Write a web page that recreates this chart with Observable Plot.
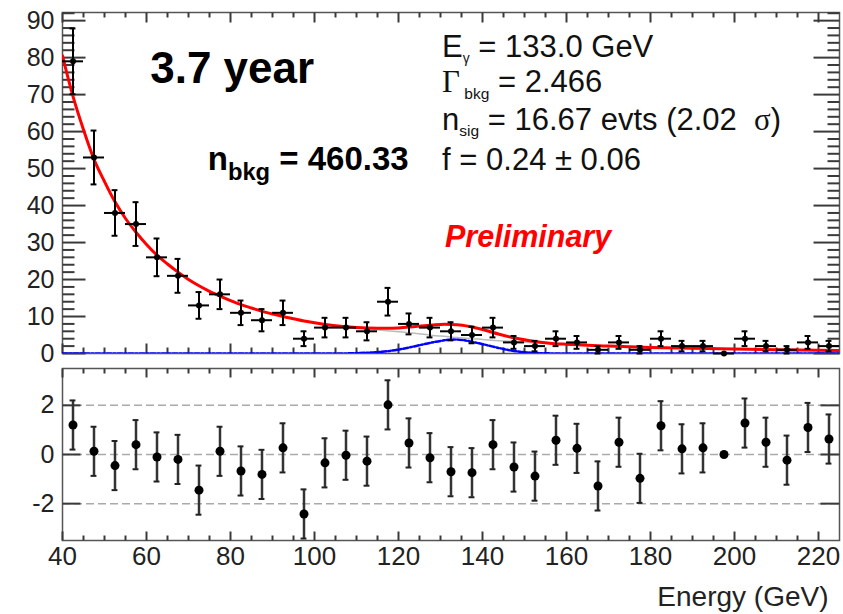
<!DOCTYPE html>
<html>
<head>
<meta charset="utf-8">
<script src="https://cdn.jsdelivr.net/npm/d3@7"></script>
<script src="https://cdn.jsdelivr.net/npm/@observablehq/plot@0.6"></script>
<style>
  body { margin: 0; background: #fff; }
  #chart svg { display: block; overflow: visible; }
</style>
</head>
<body>
<div id="chart"></div>
<script>
// ---------------- data ----------------
const binCenters = [42.5, 47.5, 52.5, 57.5, 62.5, 67.5, 72.5, 77.5, 82.5, 87.5,
  92.5, 97.5, 102.5, 107.5, 112.5, 117.5, 122.5, 127.5, 132.5, 137.5,
  142.5, 147.5, 152.5, 157.5, 162.5, 167.5, 172.5, 177.5, 182.5, 187.5,
  192.5, 197.5, 202.5, 207.5, 212.5, 217.5, 222.5];
const counts = [79, 53, 38, 35, 26, 21, 13, 16, 11, 9,
  11, 4, 7, 7, 6, 14, 8, 7, 6, 5,
  7, 3, 2, 4, 3, 1, 3, 1, 4, 2,
  2, 0, 4, 2, 1, 3, 2];
const pulls = [1.2, 0.13, -0.45, 0.4, -0.1, -0.2, -1.45, 0.13, -0.67, -0.81,
  0.27, -2.42, -0.34, -0.03, -0.27, 2.02, 0.47, -0.13, -0.7, -0.74,
  0.4, -0.51, -0.88, 0.58, 0.25, -1.28, 0.5, -0.97, 1.17, 0.23,
  0.27, 0, 1.28, 0.5, -0.23, 1.1, 0.63];
const pullErrors = [1, 1, 1, 1, 1, 1, 1, 1, 1, 1,
  1, 1, 1, 1, 1, 1, 1, 1, 1, 1,
  1, 1, 1, 1, 1, 1, 1, 1, 1, 1,
  1, 0, 1, 1, 1, 1, 1];

// total fit (red)
const fitEnergy = [40, 42.5, 45, 47.5, 50, 52.5, 55, 57.5, 60, 62.5, 65, 67.5, 70, 72.5, 75, 77.5, 80, 82.5, 85, 87.5,
  90, 92.5, 95, 97.5, 100, 105, 110, 115, 118, 120, 124, 128, 131, 134, 137, 140, 144, 148, 152, 156,
  160, 165, 170, 180, 190, 200, 210, 225];
const fitValue = [80.5, 69.5, 60.5, 52.5, 46.5, 41, 36.5, 32.8, 29.5, 26.6, 24.2, 22, 20, 18.3, 16.8, 15.5, 14.3, 13.2, 12.3, 11.4,
  10.7, 10, 9.4, 8.8, 8.3, 7.5, 7.0, 6.8, 6.8, 6.9, 7.3, 7.7, 7.9, 7.8, 7.3, 6.5, 5.2, 4.1, 3.3, 2.8,
  2.5, 2.2, 2.0, 1.65, 1.4, 1.2, 1.0, 0.8];
// background component (grey)
const bkgEnergy = [100, 105, 110, 114, 118, 122, 126, 130, 133, 136, 139, 142, 145, 148, 151, 155, 160];
const bkgValue = [8.3, 7.5, 6.9, 6.5, 6.1, 5.7, 5.2, 4.7, 4.4, 4.1, 3.9, 3.6, 3.4, 3.2, 3.0, 2.8, 2.5];
// signal component (blue)
const sigEnergy = [40, 105, 110, 114, 118, 122, 126, 130, 133, 136, 139, 142, 145, 148, 151, 155, 160, 225];
const sigValue = [0, 0, 0.1, 0.3, 0.7, 1.5, 2.5, 3.4, 3.8, 3.5, 2.8, 2.0, 1.2, 0.6, 0.25, 0.05, 0, 0];

// tick values
const xMajor = [40, 60, 80, 100, 120, 140, 160, 180, 200, 220];
const xMinor = [45, 50, 55, 65, 70, 75, 85, 90, 95, 105, 110, 115, 125, 130, 135, 145, 150, 155,
  165, 170, 175, 185, 190, 195, 205, 210, 215];
const yTopMajor = [0, 10, 20, 30, 40, 50, 60, 70, 80, 90];
const yTopMinor = [2, 4, 6, 8, 12, 14, 16, 18, 22, 24, 26, 28, 32, 34, 36, 38, 42, 44, 46, 48,
  52, 54, 56, 58, 62, 64, 66, 68, 72, 74, 76, 78, 82, 84, 86, 88, 92];
const yResMajor = [-2, 0, 2];

// axis extents
const X_DOMAIN = [40, 225];
const Y_TOP_DOMAIN = [0, 92.2];
const Y_RES_DOMAIN = [-3.5, 3.5];

// ---------------- tables ----------------
const points = binCenters.map((e, i) => ({e, n: counts[i], err: Math.sqrt(counts[i])}));
const resid = binCenters.map((e, i) => ({e, p: pulls[i], err: pullErrors[i]}));
const fit = fitEnergy.map((e, i) => ({e, v: fitValue[i]}));
const bkg = bkgEnergy.map((e, i) => ({e, v: bkgValue[i]}));
const sig = sigEnergy.map((e, i) => ({e, v: sigValue[i]}));

const FONT = "'Liberation Sans', Arial, Helvetica, sans-serif";
const SERIF = "'Liberation Serif', 'DejaVu Serif', serif";
const FRAME = "#555";
const TICK = "#3a3a3a";
const W = 843;
const M = {left: 62, right: 4};
const TOPP = {height: 358, marginTop: 12, marginBottom: 5};
const BOTP = {height: 256, marginTop: 10, marginBottom: 74};
const BIN_HALF = 2.5;
const CAP = 0.7;

// inward ROOT-style ticks as rule marks (tick length in pixels converted to data units)
function tickRules(values, axis, side, lenPx, panel, yDomain) {
  const frameW = W - M.left - M.right;
  const frameH = panel.height - panel.marginTop - panel.marginBottom;
  const xu = (X_DOMAIN[1] - X_DOMAIN[0]) / frameW;
  const yu = (yDomain[1] - yDomain[0]) / frameH;
  const rows = values.map(v => {
    if (axis === "y") {
      const a = side === "left" ? X_DOMAIN[0] : X_DOMAIN[1];
      const b = side === "left" ? a + lenPx * xu : a - lenPx * xu;
      return {x1: a, x2: b, y1: v, y2: v};
    } else {
      const a = side === "bottom" ? yDomain[0] : yDomain[1];
      const b = side === "bottom" ? a + lenPx * yu : a - lenPx * yu;
      return {x1: v, x2: v, y1: a, y2: b};
    }
  });
  return Plot.link(rows, {x1: "x1", y1: "y1", x2: "x2", y2: "y2", stroke: TICK, strokeWidth: 2});
}

// ---------------- annotation texts (top panel) ----------------
const annotations = [
  {x: 61, y: 72.9, size: 44, weight: "bold", color: "#000", parts: [{t: "3.7 year"}]},
  {x: 74.7, y: 49.4, size: 33, weight: "bold", color: "#000",
    parts: [{t: "n"}, {t: "bkg", scale: 0.72, dy: 10}, {t: " = 460.33"}]},
  {x: 130.5, y: 80, size: 31, color: "#111",
    parts: [{t: "E"}, {t: "γ", scale: 0.45, dy: 6}, {t: " = 133.0 GeV"}]},
  {x: 130.5, y: 70.5, size: 31, color: "#111",
    parts: [{t: "Γ", family: SERIF}, {t: " bkg", scale: 0.5, dy: 7}, {t: " = 2.466"}]},
  {x: 130.5, y: 60.2, size: 31, color: "#111",
    parts: [{t: "n"}, {t: "sig", scale: 0.5, dy: 6}, {t: " = 16.67 evts (2.02  "},
            {t: "σ", family: SERIF}, {t: ")"}]},
  {x: 130.5, y: 49.4, size: 31, color: "#111", parts: [{t: "f = 0.24 ± 0.06"}]},
  {x: 131.2, y: 28.6, size: 30.5, weight: "bold", style: "italic", color: "#ff0000", parts: [{t: "Preliminary"}]}
];

function annotationMark(index, scales) {
  const g = d3.create("svg:g").attr("font-family", FONT).attr("text-anchor", "start");
  for (const a of annotations) {
    const t = g.append("text")
      .attr("x", scales.x(a.x)).attr("y", scales.y(a.y))
      .attr("text-anchor", "start")
      .attr("font-size", a.size)
      .attr("font-weight", a.weight || "normal")
      .attr("font-style", a.style || "normal")
      .attr("fill", a.color);
    let cur = 0;
    for (const p of a.parts) {
      const ts = t.append("tspan").text(p.t);
      const target = p.dy || 0;
      if (target !== cur) { ts.attr("dy", target - cur); cur = target; }
      if (p.scale) ts.attr("font-size", a.size * p.scale);
      if (p.family) ts.attr("font-family", p.family).attr("font-weight", "normal").attr("font-style", "normal");
    }
  }
  return g.node();
}

// ---------------- top panel ----------------
const topPanel = Plot.plot({
  width: W,
  height: TOPP.height,
  marginTop: TOPP.marginTop,
  marginBottom: TOPP.marginBottom,
  marginLeft: M.left,
  marginRight: M.right,
  style: {fontFamily: FONT, background: "transparent", color: "#222", overflow: "visible"},
  x: {domain: X_DOMAIN, axis: null},
  y: {domain: Y_TOP_DOMAIN},
  marks: [
    Plot.axisY(yTopMajor, {tickSize: 0, tickPadding: 8, fontSize: 25, label: null}),
    Plot.frame({stroke: FRAME, strokeWidth: 1.5}),
    tickRules(yTopMajor, "y", "left", 23, TOPP, Y_TOP_DOMAIN),
    tickRules(yTopMinor, "y", "left", 12, TOPP, Y_TOP_DOMAIN),
    tickRules(yTopMajor, "y", "right", 26, TOPP, Y_TOP_DOMAIN),
    tickRules(yTopMinor, "y", "right", 12, TOPP, Y_TOP_DOMAIN),
    tickRules(xMajor, "x", "top", 10, TOPP, Y_TOP_DOMAIN),
    tickRules(xMinor, "x", "top", 5, TOPP, Y_TOP_DOMAIN),
    tickRules(xMajor, "x", "bottom", 10, TOPP, Y_TOP_DOMAIN),
    tickRules(xMinor, "x", "bottom", 6, TOPP, Y_TOP_DOMAIN),
    Plot.line(sig, {x: "e", y: "v", stroke: "#0000ff", strokeWidth: 2.5, strokeDasharray: "5,2,2,2", curve: "monotone-x", clip: true}),
    Plot.line(bkg, {x: "e", y: "v", stroke: "#bbbbbb", strokeWidth: 1.5, curve: "monotone-x", clip: true}),
    Plot.line(fit, {x: "e", y: "v", stroke: "#ff0000", strokeWidth: 3, curve: "monotone-x", clip: true}),
    Plot.ruleY(points, {y: "n", x1: d => d.e - BIN_HALF, x2: d => d.e + BIN_HALF, stroke: "#000", strokeWidth: 2}),
    Plot.ruleX(points.filter(d => d.err > 0), {x: "e", y1: d => d.n - d.err, y2: d => d.n + d.err, stroke: "#000", strokeWidth: 2}),
    Plot.ruleY(points.filter(d => d.err > 0), {y: d => d.n + d.err, x1: d => d.e - CAP, x2: d => d.e + CAP, stroke: "#000", strokeWidth: 2}),
    Plot.ruleY(points.filter(d => d.err > 0), {y: d => d.n - d.err, x1: d => d.e - CAP, x2: d => d.e + CAP, stroke: "#000", strokeWidth: 2}),
    Plot.dot(points, {x: "e", y: "n", r: 3, fill: "#000", stroke: null}),
    annotationMark
  ]
});

// ---------------- residual panel ----------------
const bottomPanel = Plot.plot({
  width: W,
  height: BOTP.height,
  marginTop: BOTP.marginTop,
  marginBottom: BOTP.marginBottom,
  marginLeft: M.left,
  marginRight: M.right,
  style: {fontFamily: FONT, background: "transparent", color: "#222", overflow: "visible"},
  x: {domain: X_DOMAIN},
  y: {domain: Y_RES_DOMAIN},
  marks: [
    Plot.ruleY(yResMajor, {stroke: "#aaa", strokeWidth: 1.5, strokeDasharray: "8,4"}),
    Plot.axisY(yResMajor, {tickSize: 0, tickPadding: 8, fontSize: 25, label: null, tickFormat: d => String(d)}),
    Plot.axisX(xMajor, {anchor: "bottom", tickSize: 0, tickPadding: 6, fontSize: 26, label: null}),
    Plot.frame({stroke: FRAME, strokeWidth: 1.5}),
    tickRules(yResMajor, "y", "left", 18, BOTP, Y_RES_DOMAIN),
    tickRules(yResMajor, "y", "right", 19, BOTP, Y_RES_DOMAIN),
    tickRules(xMajor, "x", "bottom", 9, BOTP, Y_RES_DOMAIN),
    tickRules(xMinor, "x", "bottom", 5, BOTP, Y_RES_DOMAIN),
    tickRules(xMajor, "x", "top", 9, BOTP, Y_RES_DOMAIN),
    tickRules(xMinor, "x", "top", 5, BOTP, Y_RES_DOMAIN),
    Plot.ruleX(resid.filter(d => d.err > 0), {x: "e", y1: d => d.p - d.err, y2: d => d.p + d.err, stroke: "#333", strokeWidth: 2.5, clip: true}),
    Plot.ruleY(resid.filter(d => d.err > 0), {y: d => d.p + d.err, x1: d => d.e - CAP, x2: d => d.e + CAP, stroke: "#222", strokeWidth: 2, clip: true}),
    Plot.ruleY(resid.filter(d => d.err > 0), {y: d => d.p - d.err, x1: d => d.e - CAP, x2: d => d.e + CAP, stroke: "#222", strokeWidth: 2, clip: true}),
    Plot.dot(resid, {x: "e", y: "p", r: 4.5, fill: "#000", stroke: null}),
    Plot.text(["Energy (GeV)"], {frameAnchor: "bottom-right", text: d => d, textAnchor: "end", lineAnchor: "middle",
      dx: -11, dy: 57, fontSize: 28, fill: "#222"})
  ]
});

const chart = document.getElementById("chart");
chart.appendChild(topPanel);
chart.appendChild(bottomPanel);
</script>
</body>
</html>
